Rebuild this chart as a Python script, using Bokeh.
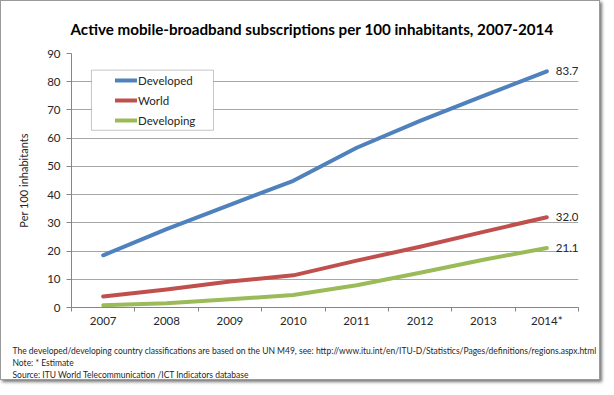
from bokeh.plotting import figure
from bokeh.models import (Range1d, FixedTicker, Legend, LegendItem, BoxAnnotation,
                          Title, ColumnDataSource)
from bokeh.embed import file_html
from bokeh.resources import INLINE

years = ["2007", "2008", "2009", "2010", "2011", "2012", "2013", "2014*"]
developed = [18.5, 27.8, 36.4, 44.9, 56.6, 66.1, 75.0, 83.7]
world = [3.9, 6.4, 9.2, 11.4, 16.6, 21.5, 26.8, 32.0]
developing = [0.8, 1.5, 2.9, 4.4, 7.9, 12.3, 16.9, 21.1]
series_names = ["Developed", "World", "Developing"]
y_ticks = [0, 10, 20, 30, 40, 50, 60, 70, 80, 90]

FONT = "Lato"
TXT = "#262626"
colors = ["#4F81BD", "#C0504D", "#9BBB59"]

x = list(range(len(years)))

p = figure(frame_width=507, frame_height=254, output_backend="svg", toolbar_location=None,
           x_range=Range1d(-0.5, len(years) - 0.5), y_range=Range1d(0, 90),
           min_border_left=70, min_border_right=21, min_border_top=20, min_border_bottom=10)
p.styles = {"border": "1px solid #9a9a9a", "box-shadow": "2px 2px 3px #777"}
p.outline_line_color = None
p.background_fill_color = "white"
p.border_fill_color = "white"

# title
p.title.text = "Active mobile-broadband subscriptions per 100 inhabitants, 2007-2014"
p.title.text_font = FONT
p.title.text_font_size = "15.2px"
p.title.text_font_style = "bold"
p.title.text_color = "black"
p.title.align = "left"
p.title.offset = -1
p.title.standoff = 32

# grid
p.xgrid.grid_line_color = None
p.ygrid.grid_line_color = "#a6a6a6"
p.ygrid.grid_line_width = 1

# y axis
p.yaxis.ticker = FixedTicker(ticks=y_ticks)
p.yaxis.axis_line_color = "#868686"
p.yaxis.major_tick_line_color = "#868686"
p.yaxis.major_tick_out = 5
p.yaxis.major_tick_in = 0
p.yaxis.minor_tick_line_color = None
p.yaxis.major_label_text_font = FONT
p.yaxis.major_label_text_font_size = "11.5px"
p.yaxis.major_label_text_color = TXT
p.yaxis.major_label_standoff = 6
p.yaxis.axis_label = "Per 100 inhabitants"
p.yaxis.axis_label_text_font = FONT
p.yaxis.axis_label_text_font_size = "11px"
p.yaxis.axis_label_text_font_style = "normal"
p.yaxis.axis_label_text_color = TXT
p.yaxis.axis_label_standoff = 14

# x axis
p.xaxis.ticker = FixedTicker(ticks=x, minor_ticks=[i - 0.5 for i in range(len(years) + 1)])
p.xaxis.major_label_overrides = {i: y for i, y in enumerate(years)}
p.xaxis.axis_line_color = "#868686"
p.xaxis.major_tick_line_color = None
p.xaxis.minor_tick_line_color = "#868686"
p.xaxis.minor_tick_out = 4
p.xaxis.minor_tick_in = 0
p.xaxis.major_label_text_font = FONT
p.xaxis.major_label_text_font_size = "11.5px"
p.xaxis.major_label_text_color = TXT
p.xaxis.major_label_standoff = 0
p.xaxis.axis_label = " "
p.xaxis.axis_label_text_font_size = "1px"
p.xaxis.axis_label_standoff = 10

# lines
renderers = []
for vals, c in zip([developed, world, developing], colors):
    r = p.line(x=x, y=vals, line_color=c, line_width=4, line_cap="round", line_join="round")
    renderers.append(r)

# end labels
last = [developed[-1], world[-1], developing[-1]]
src = ColumnDataSource(dict(x=[x[-1]] * 3, y=last, t=[f"{v:.1f}" for v in last]))
p.text(x="x", y="y", text="t", source=src, x_offset=9, text_baseline="middle",
       text_align="left", text_font_size="11.5px", text_color=TXT,
       text_font={"value": FONT})

# legend box
box = BoxAnnotation(left=-0.185, right=1.74, top=84.1, bottom=62.8,
                    fill_color="white", fill_alpha=1.0, line_color="#404040", line_width=1)
p.add_layout(box)

legend = Legend(items=[LegendItem(label=n, renderers=[r]) for n, r in zip(series_names, renderers)],
                location=(44, 177), padding=0, spacing=0, margin=0,
                glyph_width=22, glyph_height=20, label_height=20, label_standoff=1,
                label_text_font=FONT, label_text_font_size="11.5px", label_text_color=TXT,
                background_fill_alpha=0, border_line_color=None)
p.add_layout(legend)

# footnotes
notes = [
    "The developed/developing country classifications are based on the UN M49, see:  http://www.itu.int/en/ITU-D/Statistics/Pages/definitions/regions.aspx.html",
    "Note: * Estimate",
    "Source:  ITU World Telecommunication /ICT Indicators database",
]
for n in notes:
    t = Title(text=n, align="left", offset=-59, text_font=FONT, text_font_size="8.5px",
              text_font_style="normal", text_color=TXT, standoff=0)
    p.add_layout(t, "below")

open("out.html", "w").write(file_html(p, INLINE))
